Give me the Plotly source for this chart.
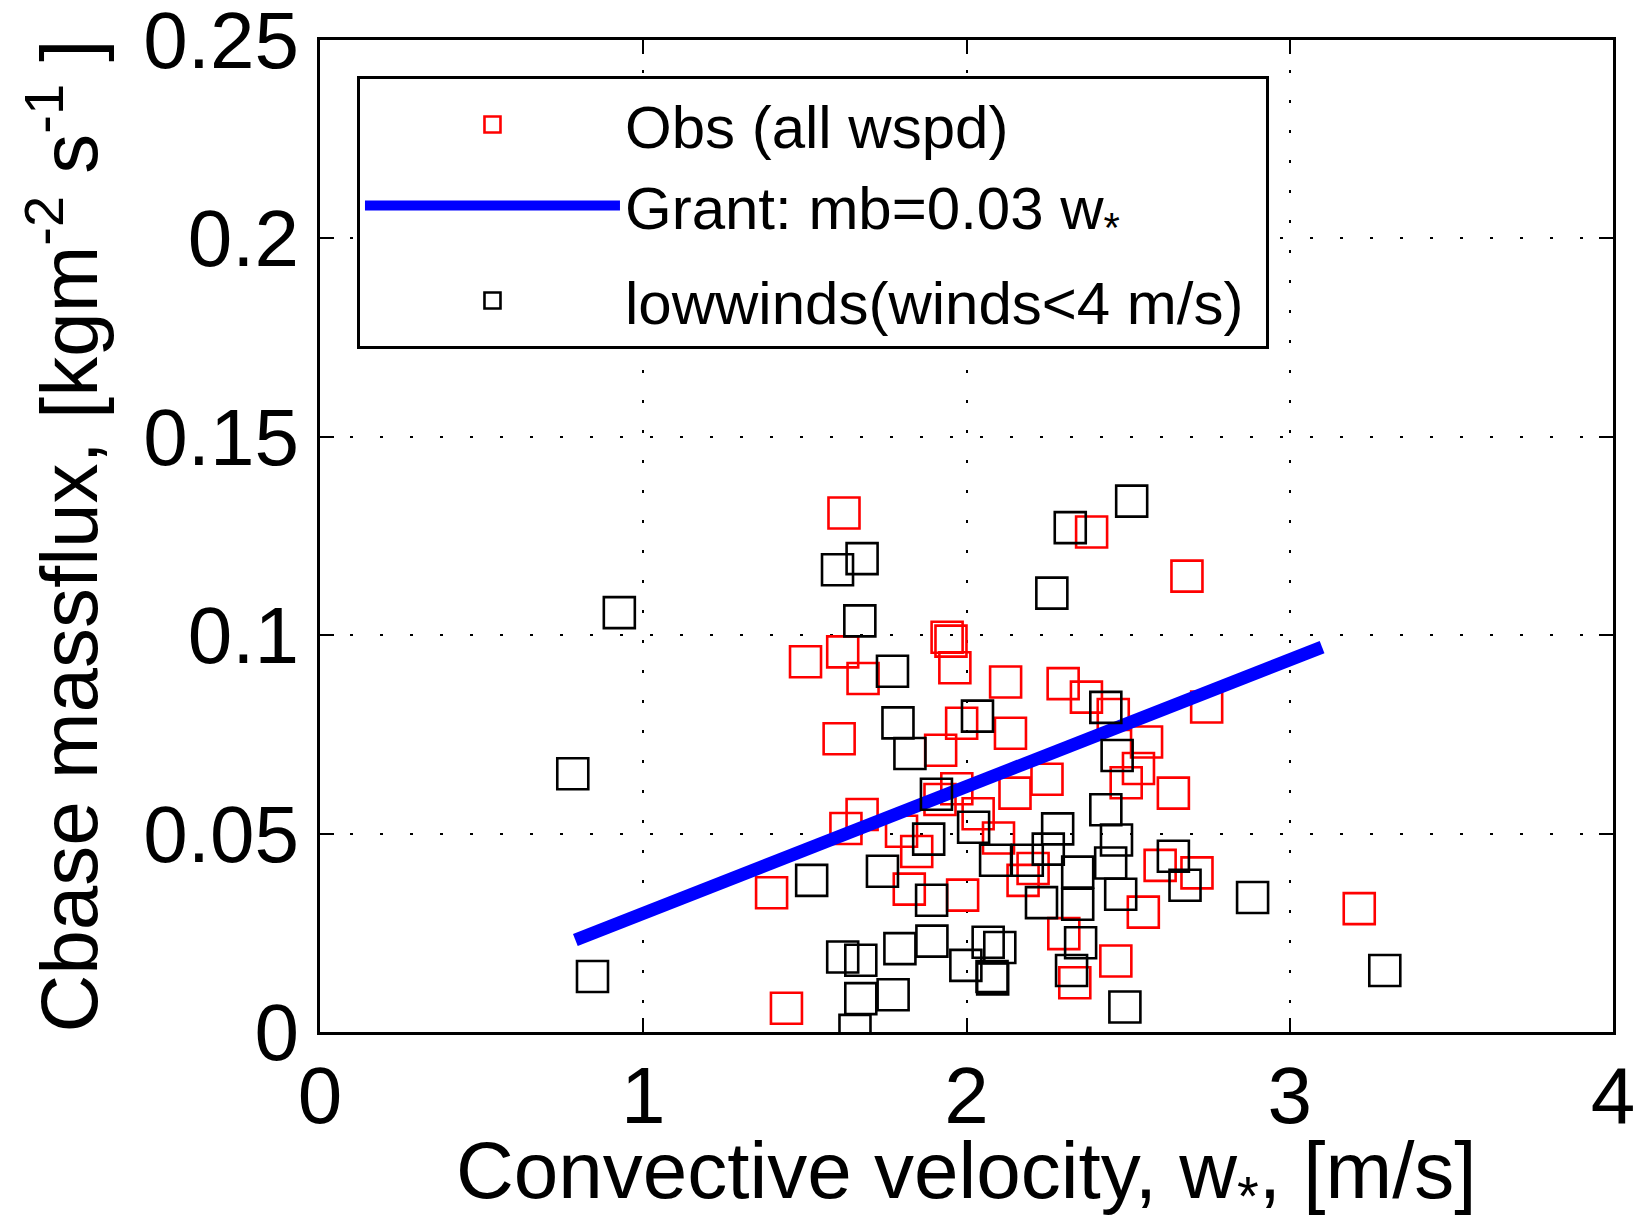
import plotly.graph_objects as go

# ---- data ----
obs_x = [1.621, 2.387, 2.682, 1.940, 1.952, 1.502, 1.617, 1.680, 1.964, 2.121,
         2.299, 2.371, 2.454, 2.743, 1.985, 2.136, 1.606, 1.920, 2.557, 2.532,
         2.494, 2.249, 2.640, 2.150, 1.970, 1.918, 2.036, 1.677, 1.627, 1.799,
         2.099, 1.846, 2.206, 2.175, 2.599, 2.713, 1.397, 1.823, 1.988, 2.547,
         2.301, 2.462, 2.335, 1.443, 3.215]
obs_y = [0.1308, 0.1260, 0.1149, 0.0995, 0.0985, 0.0933, 0.0958, 0.0891, 0.0918, 0.0882,
         0.0878, 0.0844, 0.0800, 0.0819, 0.0778, 0.0753, 0.0739, 0.0710, 0.0731, 0.0664,
         0.0628, 0.0637, 0.0602, 0.0602, 0.0613, 0.0586, 0.0550, 0.0548, 0.0513, 0.0506,
         0.0489, 0.0455, 0.0412, 0.0382, 0.0420, 0.0401, 0.0351, 0.0360, 0.0345, 0.0302,
         0.0248, 0.0179, 0.0124, 0.0060, 0.0311]

low_x = [2.511, 2.321, 1.677, 1.601, 2.264, 0.926, 1.670, 1.771, 2.431, 2.034,
         1.788, 1.825, 2.466, 0.782, 1.907, 2.431, 2.022, 2.282, 1.883, 2.464,
         2.253, 2.640, 2.090, 2.188, 2.446, 1.740, 2.344, 1.521, 2.676, 2.477,
         2.885, 1.892, 2.344, 2.232, 1.893, 2.067, 2.103, 2.353, 1.794, 1.617,
         1.673, 1.998, 2.325, 2.079, 2.081, 0.843, 1.773, 1.673, 2.490, 1.655,
         3.294]
low_y = [0.1338, 0.1271, 0.1193, 0.1165, 0.1106, 0.1057, 0.1036, 0.0909, 0.0818, 0.0796,
         0.0779, 0.0702, 0.0697, 0.0651, 0.0599, 0.0560, 0.0516, 0.0512, 0.0486, 0.0484,
         0.0461, 0.0443, 0.0433, 0.0433, 0.0426, 0.0405, 0.0403, 0.0382, 0.0370, 0.0347,
         0.0339, 0.0332, 0.0322, 0.0326, 0.0229, 0.0226, 0.0213, 0.0225, 0.0210, 0.0189,
         0.0181, 0.0168, 0.0155, 0.0140, 0.0134, 0.0140, 0.0094, 0.0084, 0.0063, 0.0004,
         0.0155]

grant_x = [0.79, 3.10]
grant_y = [0.0232, 0.0970]

x_ticks = [0, 1, 2, 3, 4]
x_ticktext = ["0", "1", "2", "3", "4"]
y_ticks = [0, 0.05, 0.1, 0.15, 0.2, 0.25]
y_ticktext = ["0", "0.05", "0.1", "0.15", "0.2", "0.25"]

x_title = "Convective velocity, w<sub>*</sub>, [m/s]"
y_title = "Cbase massflux, [kgm<sup>-2</sup> s<sup>-1</sup> ]"

FONT = "Liberation Sans, Arial, Helvetica, sans-serif"

fig = go.Figure()
fig.add_trace(go.Scatter(
    x=obs_x, y=obs_y, mode="markers", name="Obs (all wspd)",
    legendgroup="g1",
    marker=dict(symbol="square-open", size=31, color="#FF0000",
                line=dict(width=2.6, color="#FF0000")),
))
fig.add_trace(go.Scatter(
    x=grant_x, y=grant_y, mode="lines", name="Grant: mb=0.03 w<sub>*</sub>",
    legendgroup="g1",
    line=dict(color="#0000FF", width=13),
))
fig.add_trace(go.Scatter(
    x=low_x, y=low_y, mode="markers", name="lowwinds(winds<4 m/s)\u00a0",
    legendgroup="g2",
    marker=dict(symbol="square-open", size=31, color="#000000",
                line=dict(width=2.6, color="#000000")),
))

axis_common = dict(
    showline=True, linecolor="black", linewidth=3, mirror="ticks",
    ticks="inside", ticklen=14, tickwidth=2, tickcolor="black",
    showgrid=True, gridcolor="black", gridwidth=2, griddash="3px,27px",
    zeroline=False, tickfont=dict(family=FONT, size=80, color="black"),
    ticklabeloverflow="allow",
)

fig.update_xaxes(
    range=[0, 4], tickvals=x_ticks, ticktext=x_ticktext,
    ticklabelstandoff=-8,
    **axis_common,
)
fig.update_yaxes(
    range=[0, 0.25], tickvals=y_ticks, ticktext=y_ticktext,
    title=dict(text=y_title,
               font=dict(family=FONT, size=80, color="black"), standoff=20),
    ticklabelstandoff=2,
    **axis_common,
)

fig.add_annotation(
    text=x_title, xref="paper", yref="paper", x=0.5, y=-0.146,
    xanchor="center", yanchor="middle", showarrow=False,
    font=dict(family=FONT, size=80, color="black"),
)

fig.update_layout(
    width=1638, height=1217,
    margin=dict(l=320, r=25, t=40, b=185, autoexpand=False),
    paper_bgcolor="white", plot_bgcolor="white",
    font=dict(family=FONT, color="black"),
    showlegend=True,
    legend=dict(
        x=0.0286, y=0.9637, xanchor="left", yanchor="top",
        bgcolor="white", bordercolor="black", borderwidth=3,
        font=dict(family=FONT, size=60, color="black"),
        itemwidth=255, itemsizing="trace", tracegroupgap=14,
        traceorder="grouped",
    ),
)

fig.write_html("out.html")
